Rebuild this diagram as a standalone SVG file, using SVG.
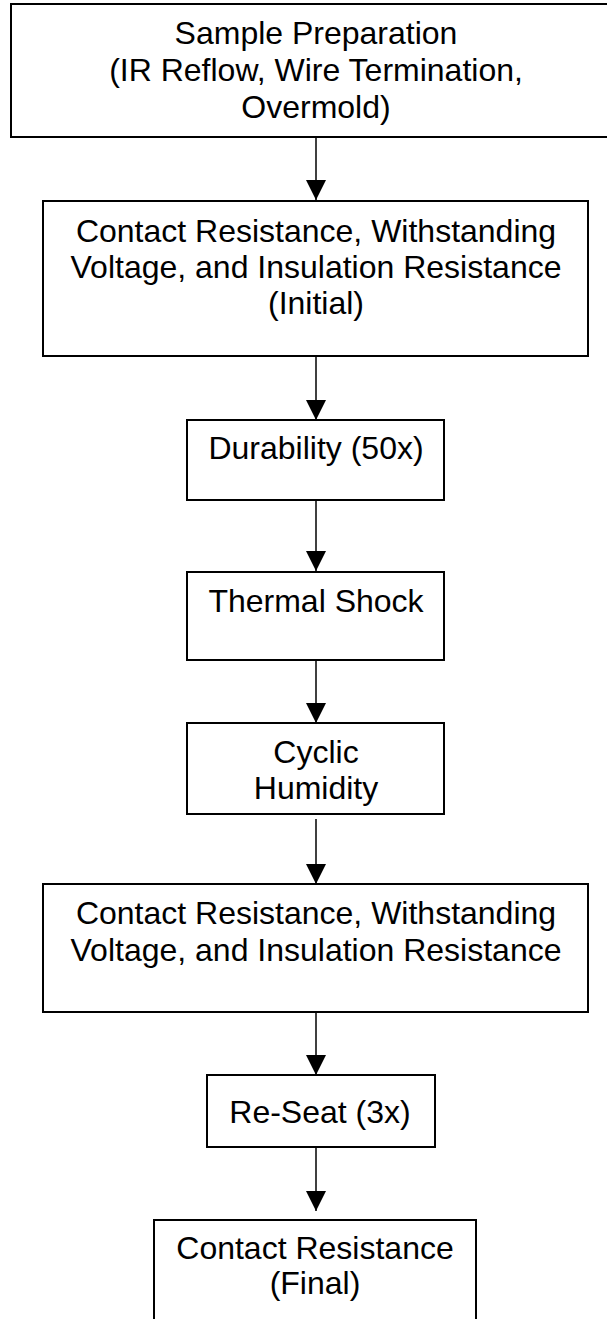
<svg xmlns="http://www.w3.org/2000/svg" width="607" height="1319" viewBox="0 0 607 1319">
<style>
.box{fill:#fff;stroke:#000;stroke-width:2}
.lbl{font-family:"Liberation Sans",Arial,sans-serif;font-size:32px;fill:#000;text-anchor:middle}
.conn{stroke:#000;stroke-width:1.5;fill:none;marker-end:url(#ah)}
</style>
<defs>
<marker id="ah" markerUnits="userSpaceOnUse" markerWidth="20" markerHeight="20" refX="20" refY="10" orient="auto">
<path d="M0,0 L20,10 L0,20 z" fill="#000"/>
</marker>
</defs>
<rect width="607" height="1319" fill="#fff"/>
<g id="connectors">
<line class="conn" x1="316" y1="137" x2="316" y2="200"/>
<line class="conn" x1="316" y1="356" x2="316" y2="420"/>
<line class="conn" x1="316" y1="500" x2="316" y2="571"/>
<line class="conn" x1="316" y1="660" x2="316" y2="723"/>
<line class="conn" x1="316" y1="819" x2="316" y2="884"/>
<line class="conn" x1="316" y1="1012" x2="316" y2="1075"/>
<line class="conn" x1="316" y1="1147" x2="316" y2="1211"/>
</g>
<g id="n1">
<rect class="box" x="11" y="4" width="610" height="133"/>
<text class="lbl" x="316" y="44">Sample Preparation</text>
<text class="lbl" x="316" y="81">(IR Reflow, Wire Termination,</text>
<text class="lbl" x="316" y="118">Overmold)</text>
</g>
<g id="n2">
<rect class="box" x="43" y="201" width="545" height="155"/>
<text class="lbl" x="316" y="242">Contact Resistance, Withstanding</text>
<text class="lbl" x="316" y="278">Voltage, and Insulation Resistance</text>
<text class="lbl" x="316" y="314">(Initial)</text>
</g>
<g id="n3">
<rect class="box" x="187" y="420" width="257" height="80"/>
<text class="lbl" x="316" y="459">Durability (50x)</text>
</g>
<g id="n4">
<rect class="box" x="187" y="572" width="257" height="88"/>
<text class="lbl" x="316" y="612">Thermal Shock</text>
</g>
<g id="n5">
<rect class="box" x="187" y="723" width="257" height="91"/>
<text class="lbl" x="316" y="763">Cyclic</text>
<text class="lbl" x="316" y="799">Humidity</text>
</g>
<g id="n6">
<rect class="box" x="43" y="884" width="545" height="128"/>
<text class="lbl" x="316" y="924">Contact Resistance, Withstanding</text>
<text class="lbl" x="316" y="961">Voltage, and Insulation Resistance</text>
</g>
<g id="n7">
<rect class="box" x="207" y="1075" width="228" height="72"/>
<text class="lbl" x="320" y="1123">Re-Seat (3x)</text>
</g>
<g id="n8">
<rect class="box" x="154" y="1220" width="322" height="120"/>
<text class="lbl" x="315" y="1259">Contact Resistance</text>
<text class="lbl" x="315" y="1294">(Final)</text>
</g>
</svg>
